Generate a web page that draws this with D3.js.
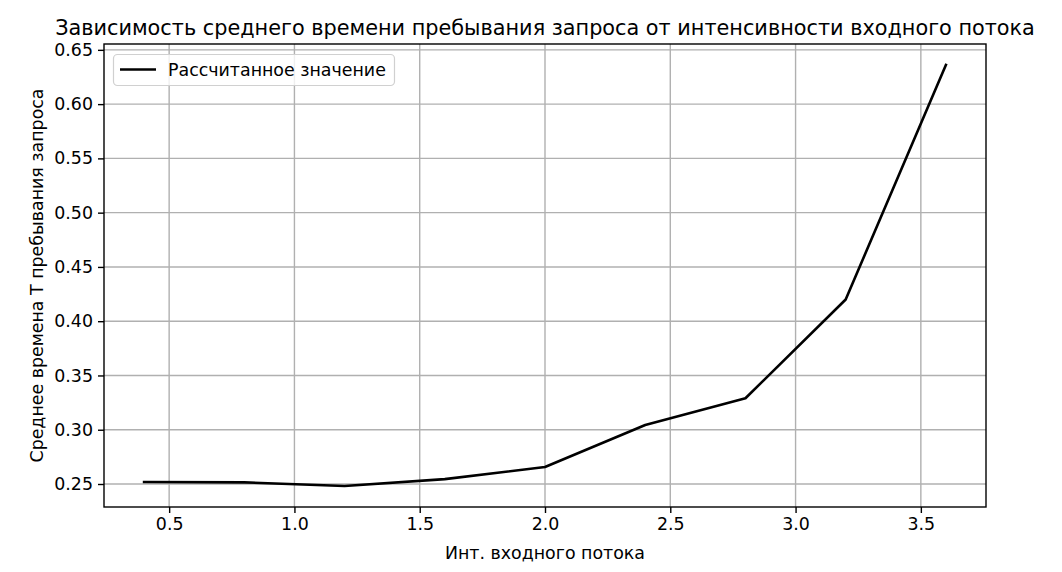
<!DOCTYPE html>
<html><head><meta charset="utf-8">
<script src="https://cdn.jsdelivr.net/npm/d3@7"></script>
<style>body{margin:0;background:#fff}svg{display:block;font-family:"DejaVu Sans",sans-serif}</style>
</head><body><svg id="c" width="1062" height="572"></svg>
<script>
const xValues = [0.4, 0.8, 1.2, 1.6, 2.0, 2.4, 2.8, 3.2, 3.6];
const yValues = [0.2518, 0.2515, 0.2482, 0.2545, 0.2657, 0.3044, 0.3290, 0.4200, 0.6360];
const xTicks = [0.5, 1.0, 1.5, 2.0, 2.5, 3.0, 3.5];
const yTicks = [0.25, 0.30, 0.35, 0.40, 0.45, 0.50, 0.55, 0.60, 0.65];
const titleText = "Зависимость среднего времени пребывания запроса от интенсивности входного потока";
const xLabel = "Инт. входного потока";
const yLabel = "Среднее времена T пребывания запроса";
const legendLabel = "Рассчитанное значение";

const L = 104, R = 986, T = 44, B = 507;
const FS = 17.4, TFS = 20.8;
const svg = d3.select("#c");
const xmin = d3.min(xValues), xmax = d3.max(xValues);
const ymin = d3.min(yValues), ymax = d3.max(yValues);
const xm = (xmax - xmin) * 0.05, ym = (ymax - ymin) * 0.05;
const x = d3.scaleLinear().domain([xmin - xm, xmax + xm]).range([L, R]);
const y = d3.scaleLinear().domain([ymin - ym, ymax + ym]).range([B, T]);

// grid
const g = svg.append("g");
g.selectAll(".gx").data(xTicks).enter().append("line")
  .attr("x1", d => x(d)).attr("x2", d => x(d))
  .attr("y1", T).attr("y2", B).attr("stroke", "#b0b0b0").attr("stroke-width", 1.4);
g.selectAll(".gy").data(yTicks).enter().append("line")
  .attr("y1", d => y(d)).attr("y2", d => y(d))
  .attr("x1", L).attr("x2", R).attr("stroke", "#b0b0b0").attr("stroke-width", 1.4);

// line
svg.append("path").datum(xValues.map((v, i) => [v, yValues[i]]))
  .attr("d", d3.line().x(d => x(d[0])).y(d => y(d[1])))
  .attr("fill", "none").attr("stroke", "#000").attr("stroke-width", 2.6)
  .attr("stroke-linejoin", "round").attr("stroke-linecap", "square");

// axes
const xAxis = d3.axisBottom(x).tickValues(xTicks).tickFormat(d3.format(".1f")).tickSize(6).tickPadding(5);
const yAxis = d3.axisLeft(y).tickValues(yTicks).tickFormat(d3.format(".2f")).tickSize(6).tickPadding(5);
const ax = svg.append("g").attr("transform", `translate(0,${B})`).call(xAxis);
const ay = svg.append("g").attr("transform", `translate(${L},0)`).call(yAxis);
[ax, ay].forEach(a => {
  a.select(".domain").remove();
  a.selectAll("text").attr("font-size", FS).attr("font-family", "DejaVu Sans").attr("fill", "#000");
  a.selectAll("line").attr("stroke", "#000").attr("stroke-width", 1.4);
});
svg.append("rect").attr("x", L).attr("y", T).attr("width", R - L).attr("height", B - T)
  .attr("fill", "none").attr("stroke", "#000").attr("stroke-width", 1.4);

// title / labels
svg.append("text").attr("x", (L + R) / 2).attr("y", 35).attr("text-anchor", "middle")
  .attr("font-size", TFS).text(titleText);
svg.append("text").attr("x", (L + R) / 2).attr("y", 559).attr("text-anchor", "middle")
  .attr("font-size", FS).text(xLabel);
svg.append("text").attr("transform", `translate(43,${(T + B) / 2}) rotate(-90)`).attr("text-anchor", "middle")
  .attr("font-size", FS).text(yLabel);

// legend
const lg = svg.append("g");
lg.append("rect").attr("x", 113.5).attr("y", 54.5).attr("width", 281).attr("height", 31).attr("rx", 4)
  .attr("fill", "#fff").attr("fill-opacity", 0.8).attr("stroke", "#d0d0d0").attr("stroke-width", 1.2);
lg.append("line").attr("x1", 120).attr("x2", 156).attr("y1", 69.5).attr("y2", 69.5)
  .attr("stroke", "#000").attr("stroke-width", 2.6);
lg.append("text").attr("x", 168).attr("y", 75.5).attr("font-size", FS).text(legendLabel);
</script></body></html>
